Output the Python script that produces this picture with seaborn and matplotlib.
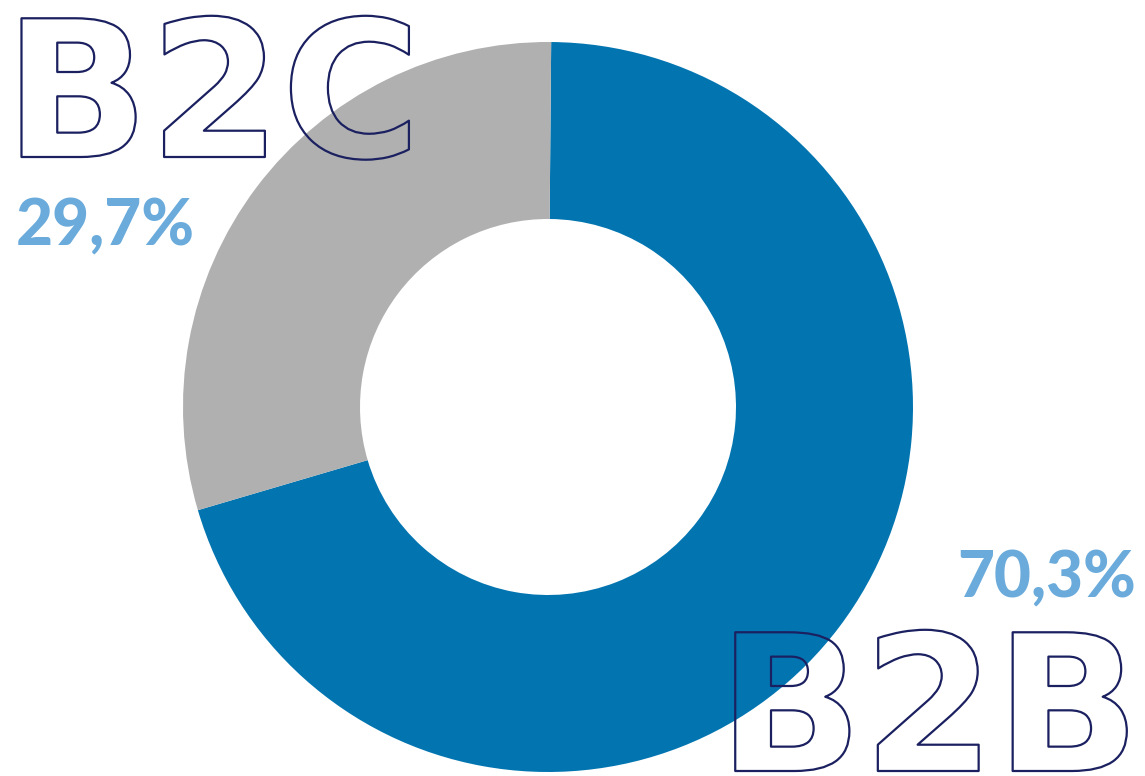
import matplotlib
matplotlib.use("Agg")
import matplotlib.pyplot as plt
import matplotlib.patheffects as pe
import seaborn as sns

categories = ["B2B", "B2C"]
shares = [70.3, 29.7]
pct_labels = ["70,3%", "29,7%"]
colors = ["#0275b1", "#b0b0b0"]

sns.set_theme(style="white")
plt.rcParams['font.family'] = ['DejaVu Sans']

W, H = 1145, 776
fig = plt.figure(figsize=(W / 100, H / 100), dpi=100)
ax = fig.add_axes([0, 0, 1, 1])

cx, cy = 548, H - 407
R, r = 365, 188
ax.pie(shares, colors=colors, startangle=89.5, counterclock=False,
       center=(cx, cy), radius=R,
       wedgeprops=dict(width=R - r, linewidth=0))
ax.set_xlim(0, W)
ax.set_ylim(0, H)
ax.set_aspect('equal')
ax.axis('off')

navy = "#1b2060"
light = "#6aabdc"
outline = [pe.Stroke(linewidth=1.6, foreground=navy)]

ax.text(4, H - 157, categories[1], fontsize=137, fontweight='bold',
        color='none', ha='left', va='baseline', path_effects=outline)
ax.text(1140, H - 771, categories[0], fontsize=137, fontweight='bold',
        color='none', ha='right', va='baseline', path_effects=outline)

ax.text(16, H - 245, pct_labels[1], fontsize=46, fontweight=900,
        color=light, ha='left', va='baseline', family='Lato')
ax.text(1136, H - 597, pct_labels[0], fontsize=46, fontweight=900,
        color=light, ha='right', va='baseline', family='Lato')

fig.savefig("out.png", dpi=100, facecolor='white')
